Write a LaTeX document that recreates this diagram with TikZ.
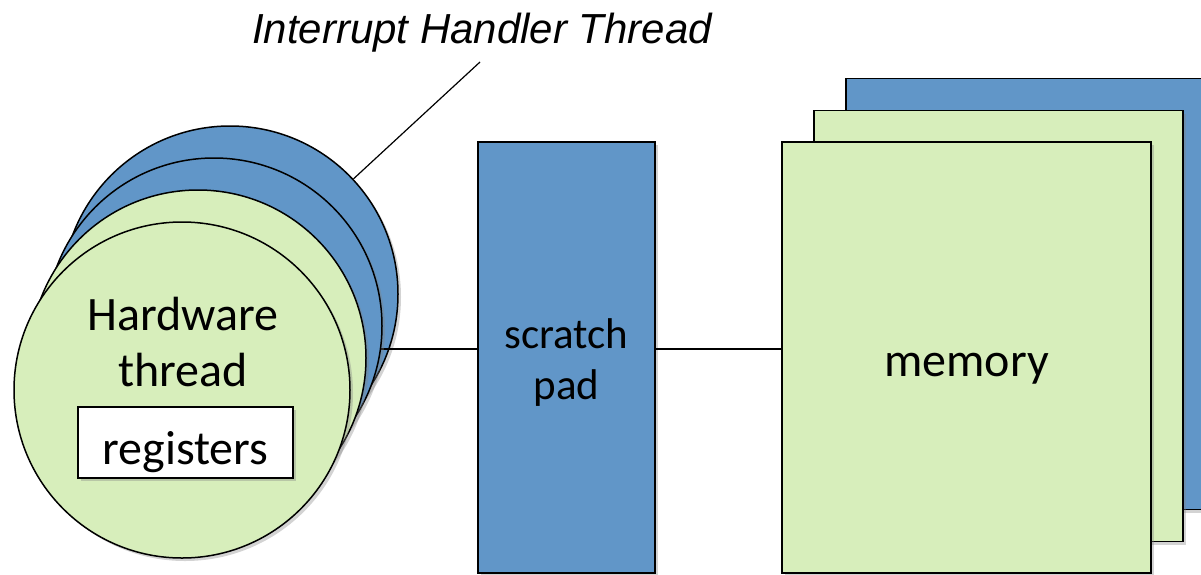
\documentclass[tikz,border=0pt]{standalone}
\usepackage{fontspec}
\setmainfont{Carlito}
\newfontfamily\titlefont{Liberation Sans}
\usetikzlibrary{shadows}
\definecolor{threadblue}{HTML}{6196C8}
\definecolor{threadgreen}{HTML}{D7EEBB}
\tikzset{softshadow/.style={drop shadow={opacity=0.35,shadow xshift=3pt,shadow yshift=-3pt}},
	thread/.style={circle,draw,line width=1.5pt,minimum size=336pt,inner sep=0pt,softshadow},
	page/.style={rectangle,draw,line width=1.5pt,minimum width=369pt,minimum height=431pt,inner sep=0pt,softshadow},
	big/.style={font=\fontsize{48}{56}\selectfont,align=center}}

\begin{document}
\begin{tikzpicture}
	[x=1pt,y=-1pt,line width=1.2pt]

	\clip (0,0) rectangle (1201,574);
	\node [anchor=base,font=\titlefont\itshape\fontsize{42}{50}\selectfont] (title) at (482,43) {Interrupt Handler Thread};
	\coordinate (tip) at (480,62);
	\coordinate (bus) at (0,349);

	\node [thread,fill=threadblue] (hw4) at (230,294) {};
	\draw (tip) -- (hw4.43);
	\draw (hw4.center |- bus) -- (bus -| 478,0);
	\node [thread,fill=threadblue] (hw3) at (214,326) {};
	\node [thread,fill=threadgreen] (hw2) at (198,358) {};
	\node [thread,fill=threadgreen] (hw1) at (182,390) {};
	\node [big] (hwtext) at (183,342) {Hardware\\thread};
	\node [rectangle,draw,fill=white,line width=1.5pt,minimum width=215pt,minimum height=71pt,softshadow,
		font=\fontsize{48}{56}\selectfont] (regs) at (185.5,442.5) {\raisebox{-22pt}[0pt][0pt]{registers}};

	\node [page,fill=threadblue] (mem3) at (1030.5,294) {};
	\node [page,fill=threadgreen] (mem2) at (998.5,326) {};
	\node [page,fill=threadgreen,big] (mem1) at (966.5,357.5) {\raisebox{-19pt}[0pt][0pt]{memory}};

	\node [rectangle,draw,fill=threadblue,line width=1.5pt,minimum width=177pt,minimum height=431pt,softshadow] (pad) at (566.5,357.5) {};
	\node [font=\fontsize{43}{51}\selectfont,align=center] (padtext) at (566.5,363) {scratch\\pad};
	\draw (bus -| pad.east) -- (bus -| mem1.west);
\end{tikzpicture}
\end{document}
